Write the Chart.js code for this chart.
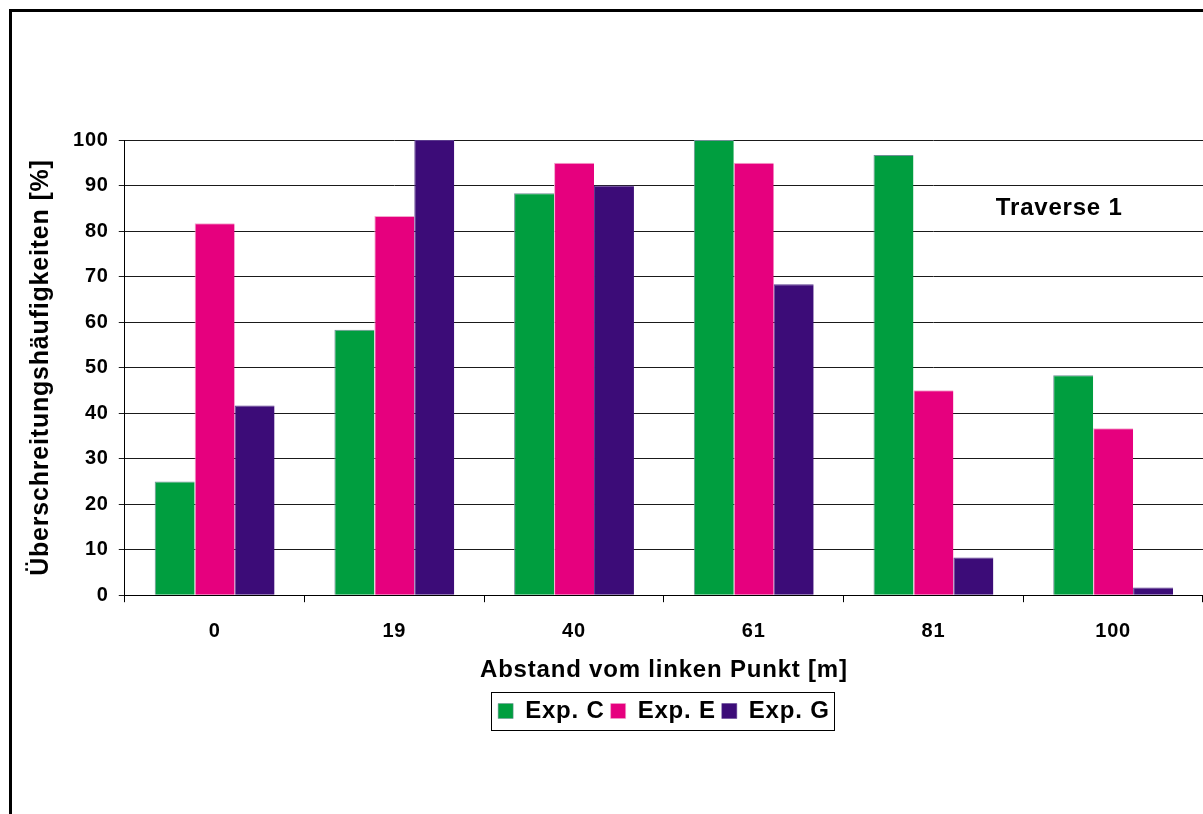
<!DOCTYPE html>
<html>
<head>
<meta charset="utf-8">
<script src="https://cdn.jsdelivr.net/npm/chart.js@4/dist/chart.umd.min.js"></script>
<style>
  body { margin: 0; background: #fff; overflow: hidden; }
  #frame { position: absolute; left: 9px; top: 9px; width: 1400px; height: 1000px; border: 3px solid #000; }
  #wrap { position: absolute; left: 0; top: 0; width: 1203px; height: 814px; }
</style>
</head>
<body>
<div id="frame"></div>
<div id="wrap"><canvas id="chart"></canvas></div>
<script>
// Daten
const categories = ['0', '19', '40', '61', '81', '100']
const expC = [25, 58.3, 88.3, 100, 96.7, 48.3]
const expE = [81.7, 83.3, 95, 95, 45, 36.7]
const expG = [41.7, 100, 90, 68.3, 8.3, 1.7]
const yTicks = [0, 10, 20, 30, 40, 50, 60, 70, 80, 90, 100]

const font = 'Liberation Sans, Arial, sans-serif'
const spacing = '0.8px'

// etwas breitere Schrift wie im Original
const wideText = {
  id: 'wideText',
  beforeLayout(chart) { chart.ctx.letterSpacing = spacing },
  beforeDraw(chart) { chart.ctx.letterSpacing = spacing }
}

// Rahmen um Legende + Textfeld "Traverse 1"
const extras = {
  id: 'extras',
  afterDraw(chart) {
    const ctx = chart.ctx
    const boxes = chart.legend.legendHitBoxes
    if (boxes && boxes.length) {
      const l = Math.min(...boxes.map(b => b.left))
      const r = Math.max(...boxes.map(b => b.left + b.width))
      const t = Math.min(...boxes.map(b => b.top))
      const b2 = Math.max(...boxes.map(b => b.top + b.height))
      ctx.save()
      ctx.strokeStyle = '#000'
      ctx.lineWidth = 1
      ctx.strokeRect(Math.round(l - 7) + 0.5, Math.round(t - 7) + 0.5, Math.round(r - l + 12), Math.round(b2 - t + 14))
      ctx.restore()
    }
    const xs = chart.scales.x, ys = chart.scales.y
    ctx.save()
    ctx.font = 'bold 24px ' + font
    ctx.fillStyle = '#000'
    ctx.textAlign = 'center'
    ctx.textBaseline = 'middle'
    ctx.fillText('Traverse 1', xs.getPixelForValue(4.7), ys.getPixelForValue(85))
    ctx.restore()
  }
}

const edge = { top: 1, left: 1, right: 0, bottom: 0 }

new Chart(document.getElementById('chart'), {
  type: 'bar',
  data: {
    labels: categories,
    datasets: [
      { label: 'Exp. C', data: expC, backgroundColor: '#009E3F', borderColor: '#6F8F96', borderWidth: edge },
      { label: 'Exp. E', data: expE, backgroundColor: '#E6007E', borderColor: '#F3A6CC', borderWidth: edge },
      { label: 'Exp. G', data: expG, backgroundColor: '#3C0C78', borderColor: '#5B3A8E', borderWidth: edge }
    ]
  },
  options: {
    responsive: true,
    maintainAspectRatio: false,
    animation: false,
    datasets: { bar: { categoryPercentage: 0.667, barPercentage: 1.0 } },
    layout: { padding: { top: 140, left: 22, right: 0, bottom: 81 } },
    scales: {
      x: {
        grid: { display: true, drawOnChartArea: false, offset: true, color: '#000', tickLength: 7 },
        border: { color: '#000' },
        ticks: { color: '#000', font: { family: font, size: 20, weight: 'bold' }, padding: 17 },
        title: { display: true, text: 'Abstand vom linken Punkt [m]', color: '#000', font: { family: font, size: 24, weight: 'bold' }, padding: { top: -4, bottom: 8 } }
      },
      y: {
        min: 0,
        max: 100,
        afterBuildTicks: (axis) => { axis.ticks = yTicks.map(v => ({ value: v })) },
        grid: { color: '#1a1a1a', tickLength: 6 },
        border: { color: '#000' },
        ticks: { color: '#000', font: { family: font, size: 20, weight: 'bold' }, padding: 10 },
        title: { display: true, text: 'Überschreitungshäufigkeiten [%]', color: '#000', font: { family: font, size: 25, weight: 'bold' }, padding: { top: 4, bottom: 7 } }
      }
    },
    plugins: {
      legend: {
        position: 'bottom',
        fullSize: false,
        labels: { color: '#000', boxWidth: 15, boxHeight: 15, padding: 6, font: { family: font, size: 24, weight: 'bold' } }
      },
      tooltip: { enabled: false }
    }
  },
  plugins: [wideText, extras]
})
</script>
</body>
</html>
